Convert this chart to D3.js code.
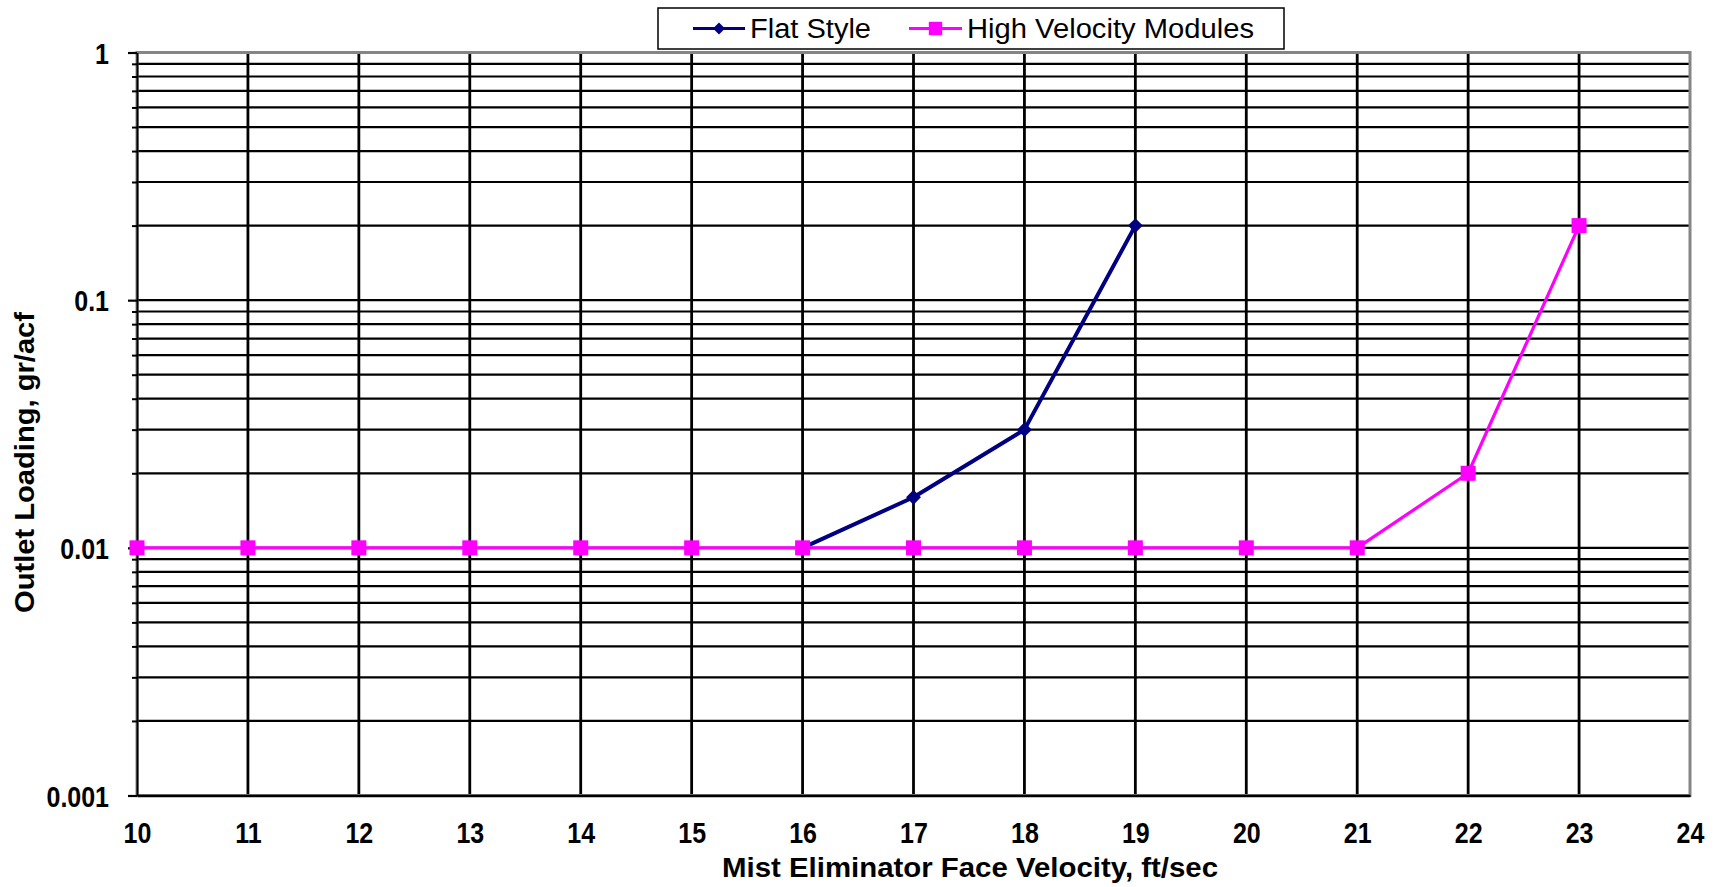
<!DOCTYPE html>
<html>
<head>
<meta charset="utf-8">
<script src="https://cdn.jsdelivr.net/npm/d3@7"></script>
<style>
  body { margin: 0; background: #ffffff; }
  svg { display: block; }
  text { font-family: "Liberation Sans", Arial, sans-serif; fill: #000; }
  .tall { transform-box: fill-box; transform-origin: center; transform: scaleY(1.18); }
</style>
</head>
<body>
<svg id="chart" width="1716" height="887"></svg>
<script>
// Mist eliminator performance: outlet loading vs. face velocity
const flatVelocity = [16, 17, 18, 19];
const flatLoading  = [0.01, 0.016, 0.03, 0.2];

const hvVelocity = [10, 11, 12, 13, 14, 15, 16, 17, 18, 19, 20, 21, 22, 23];
const hvLoading  = [0.01, 0.01, 0.01, 0.01, 0.01, 0.01, 0.01, 0.01, 0.01, 0.01, 0.01, 0.01, 0.02, 0.2];

const xTickValues = [10, 11, 12, 13, 14, 15, 16, 17, 18, 19, 20, 21, 22, 23, 24];
const yTickValues = [0.001, 0.01, 0.1, 1];
const yTickLabels = ["0.001", "0.01", "0.1", "1"];

const seriesNames = ["Flat Style", "High Velocity Modules"];
const seriesColors = ["#000080", "#ff00ff"];

const plot = { left: 137, right: 1690, top: 52.5, bottom: 795.5 };

const svg = d3.select("#chart");

const x = d3.scaleLinear().domain([10, 24]).range([plot.left, plot.right]);
const y = d3.scaleLog().domain([0.001, 1]).range([plot.bottom, plot.top]);

// plot area background
svg.append("rect")
  .attr("x", plot.left).attr("y", plot.top)
  .attr("width", plot.right - plot.left).attr("height", plot.bottom - plot.top)
  .attr("fill", "#fff");

// horizontal gridlines at every log step (1..9 per decade)
const yGridValues = y.ticks().filter(v => v > 0.001 && v < 1);
svg.append("g")
  .selectAll("line")
  .data(yGridValues)
  .join("line")
  .attr("x1", plot.left).attr("x2", plot.right)
  .attr("y1", d => y(d)).attr("y2", d => y(d))
  .attr("stroke", "#000").attr("stroke-width", 2.2);

// vertical gridlines at each whole ft/sec
svg.append("g")
  .selectAll("line")
  .data(xTickValues.filter(v => v > 10 && v < 24))
  .join("line")
  .attr("x1", d => x(d)).attr("x2", d => x(d))
  .attr("y1", plot.top).attr("y2", plot.bottom)
  .attr("stroke", "#000").attr("stroke-width", 2.8);

// plot border (grey)
svg.append("rect")
  .attr("x", plot.left).attr("y", plot.top)
  .attr("width", plot.right - plot.left).attr("height", plot.bottom - plot.top)
  .attr("fill", "none").attr("stroke", "#858585").attr("stroke-width", 3);

// y axis: major and minor ticks pointing outward
const yAxisMajor = d3.axisLeft(y)
  .tickValues(yTickValues)
  .tickFormat((d, i) => yTickLabels[i])
  .tickSizeInner(9).tickSizeOuter(0).tickPadding(19);
const gy = svg.append("g")
  .attr("transform", `translate(${plot.left},0)`)
  .call(yAxisMajor);
gy.select(".domain").attr("stroke", "#000").attr("stroke-width", 2);
gy.selectAll(".tick line").attr("stroke", "#000").attr("stroke-width", 2.2);
gy.selectAll(".tick text")
  .attr("class", "tall")
  .attr("font-size", 25).attr("font-weight", "bold")
  .attr("font-family", "'Liberation Sans', Arial, sans-serif")
  .attr("dy", "0.36em").attr("fill", "#000");

const yAxisMinor = d3.axisLeft(y)
  .tickValues(yGridValues.filter(v => !yTickValues.includes(v)))
  .tickFormat("").tickSizeInner(5).tickSizeOuter(0);
const gyMinor = svg.append("g")
  .attr("transform", `translate(${plot.left},0)`)
  .call(yAxisMinor);
gyMinor.select(".domain").remove();
gyMinor.selectAll(".tick line").attr("stroke", "#000").attr("stroke-width", 2);

// x axis (labels only, black baseline)
const xAxis = d3.axisBottom(x)
  .tickValues(xTickValues)
  .tickFormat(d3.format("d"))
  .tickSizeInner(0).tickSizeOuter(0).tickPadding(28);
const gx = svg.append("g")
  .attr("transform", `translate(0,${plot.bottom})`)
  .call(xAxis);
gx.select(".domain").attr("stroke", "#000").attr("stroke-width", 2.4);
gx.selectAll(".tick text")
  .attr("class", "tall")
  .attr("font-size", 25).attr("font-weight", "bold")
  .attr("font-family", "'Liberation Sans', Arial, sans-serif")
  .attr("fill", "#000");

// series lines
const line = d3.line().x(d => x(d[0])).y(d => y(d[1]));
const flatPoints = flatVelocity.map((v, i) => [v, flatLoading[i]]);
const hvPoints = hvVelocity.map((v, i) => [v, hvLoading[i]]);

svg.append("path")
  .datum(flatPoints)
  .attr("d", line)
  .attr("fill", "none").attr("stroke", seriesColors[0]).attr("stroke-width", 4)
  .attr("stroke-linejoin", "round");

svg.append("g")
  .selectAll("path")
  .data(flatPoints)
  .join("path")
  .attr("d", d3.symbol(d3.symbolSquare, 110))
  .attr("transform", d => `translate(${x(d[0])},${y(d[1])}) rotate(45)`)
  .attr("fill", seriesColors[0]);

svg.append("path")
  .datum(hvPoints)
  .attr("d", line)
  .attr("fill", "none").attr("stroke", seriesColors[1]).attr("stroke-width", 3.2)
  .attr("stroke-linejoin", "round");

svg.append("g")
  .selectAll("path")
  .data(hvPoints)
  .join("path")
  .attr("d", d3.symbol(d3.symbolSquare, 225))
  .attr("transform", d => `translate(${x(d[0])},${y(d[1])})`)
  .attr("fill", seriesColors[1]);

// axis titles
svg.append("text")
  .attr("x", 722).attr("y", 877)
  .attr("font-size", 27).attr("font-weight", "bold")
  .attr("textLength", 496).attr("lengthAdjust", "spacingAndGlyphs")
  .text("Mist Eliminator Face Velocity, ft/sec");

svg.append("text")
  .attr("transform", "translate(34,613) rotate(-90)")
  .attr("x", 0).attr("y", 0)
  .attr("font-size", 27).attr("font-weight", "bold")
  .attr("textLength", 301).attr("lengthAdjust", "spacingAndGlyphs")
  .text("Outlet Loading, gr/acf");

// legend
const legend = svg.append("g");
legend.append("rect")
  .attr("x", 658).attr("y", 8)
  .attr("width", 626).attr("height", 41)
  .attr("fill", "#fff").attr("stroke", "#000").attr("stroke-width", 1.5);

const legendItems = [
  { name: seriesNames[0], color: seriesColors[0], x1: 693, x2: 745, textX: 750, textLen: 121,
    symbol: d3.symbol(d3.symbolSquare, 72), rotate: 45 },
  { name: seriesNames[1], color: seriesColors[1], x1: 909, x2: 962, textX: 967, textLen: 287,
    symbol: d3.symbol(d3.symbolSquare, 180), rotate: 0 }
];
const legendY = 28.5;
const li = legend.selectAll("g.item").data(legendItems).join("g").attr("class", "item");
li.append("line")
  .attr("x1", d => d.x1).attr("x2", d => d.x2)
  .attr("y1", legendY).attr("y2", legendY)
  .attr("stroke", d => d.color).attr("stroke-width", 3);
li.append("path")
  .attr("d", d => d.symbol())
  .attr("transform", d => `translate(${(d.x1 + d.x2) / 2},${legendY}) rotate(${d.rotate})`)
  .attr("fill", d => d.color);
li.append("text")
  .attr("x", d => d.textX).attr("y", legendY + 9)
  .attr("font-size", 27)
  .attr("textLength", d => d.textLen).attr("lengthAdjust", "spacingAndGlyphs")
  .text(d => d.name);
</script>
</body>
</html>
